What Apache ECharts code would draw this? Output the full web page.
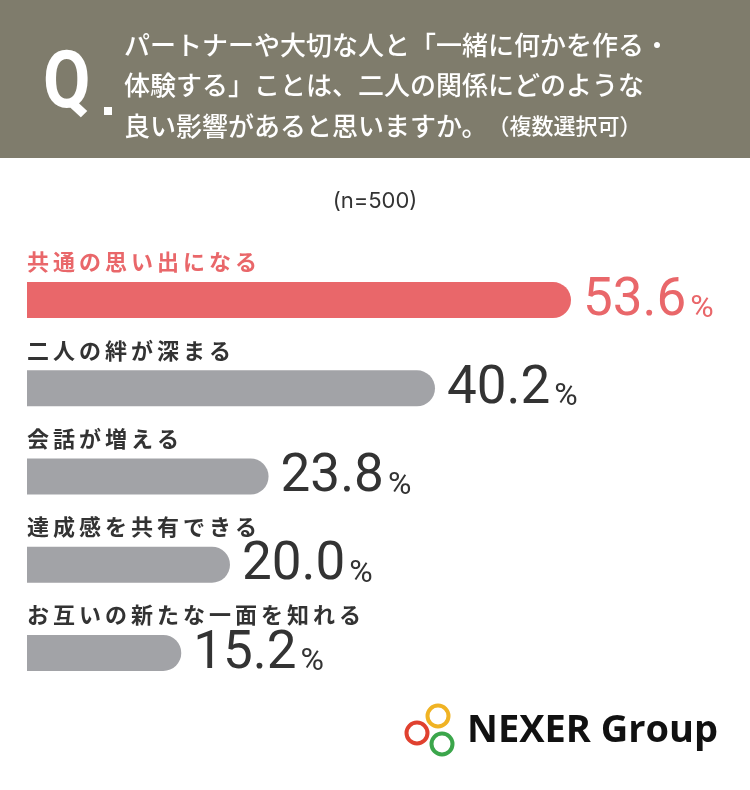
<!DOCTYPE html>
<html>
<head>
<meta charset="utf-8">
<script src="https://cdn.jsdelivr.net/npm/echarts@6/dist/echarts.min.js"></script>
<style>
html,body{margin:0;padding:0;background:#fff;}
#c{width:750px;height:790px;}
</style>
</head>
<body>
<div id="c"></div>
<script>
const categories = ['共通の思い出になる','二人の絆が深まる','会話が増える','達成感を共有できる','お互いの新たな一面を知れる'];
const values = [53.6, 40.2, 23.8, 20.0, 15.2];
const questionLines = ['パートナーや大切な人と「一緒に何かを作る・','体験する」ことは、二人の関係にどのような','良い影響があると思いますか。'];
const questionNote = '（複数選択可）';
const sampleNote = '(n=500)';

const RED = '#e9676a', GREY = '#a2a3a7', DARK = '#333333';
const JP = '"Noto Sans CJK JP", "Noto Sans", sans-serif';

const chart = echarts.init(document.getElementById('c'));

const seriesData = values.map((v, i) => ({
  value: v,
  itemStyle: { color: i === 0 ? RED : GREY },
  label: { formatter: (i === 0 ? '{nr|' : '{n|') + v.toFixed(1) + '}' + (i === 0 ? '{pr|%}' : '{p|%}') }
}));

const spaced = (txt, key) => Array.from(txt).map(ch => '{' + key + '|' + ch + '}').join('');

const numStyle = (c) => ({ fontSize: 53, color: c, fontFamily: 'Roboto, sans-serif', fontWeight: 400, verticalAlign: 'bottom', lineHeight: 56 });
const pctStyle = (c) => ({ fontSize: 32, color: c, fontFamily: 'Roboto, sans-serif', fontWeight: 400, verticalAlign: 'bottom', lineHeight: 56, padding: [0, 0, 3, 4] });

chart.setOption({
  animation: false,
  backgroundColor: '#ffffff',
  grid: { left: 27, right: 12.55, top: 256, bottom: 93, containLabel: false },
  xAxis: { type: 'value', min: 0, max: 70, show: false },
  yAxis: {
    type: 'category',
    data: categories,
    inverse: true,
    axisLine: { show: false },
    axisTick: { show: false },
    splitLine: { show: false },
    axisLabel: {
      inside: true,
      margin: 0,
      align: 'left',
      verticalAlign: 'middle',
      padding: [0, 0, 76, 0],
      formatter: (v, i) => spaced(v, i === 0 ? 'r' : 'g'),
      rich: {
        r: { color: RED, fontSize: 22, fontWeight: 'bold', fontFamily: JP, padding: [0, 4, 0, 0] },
        g: { color: DARK, fontSize: 22, fontWeight: 'bold', fontFamily: JP, padding: [0, 4, 0, 0] }
      }
    }
  },
  series: [{
    type: 'bar',
    data: seriesData,
    barWidth: 36,
    itemStyle: { borderRadius: [0, 18, 18, 0] },
    label: {
      show: true,
      position: 'right',
      distance: 12,
      rich: { n: numStyle(DARK), p: pctStyle(DARK), nr: numStyle(RED), pr: pctStyle(RED) }
    }
  }],
  graphic: [
    { type: 'rect', left: 0, top: 0, z: 0, shape: { width: 750, height: 158 }, style: { fill: '#7f7c6c' } },
    { type: 'text', x: 43, y: 87, scaleX: 0.86, z: 2, style: { text: 'Q', fill: '#fff', font: 'bold 80px Roboto, sans-serif', verticalAlign: 'middle' } },
    { type: 'rect', x: 104, y: 107, z: 2, shape: { width: 8, height: 8 }, style: { fill: '#fff' } },
    { type: 'text', x: 124, y: 45, z: 2, style: { text: questionLines[0], fill: '#fff', font: '500 26px ' + JP, verticalAlign: 'middle' } },
    { type: 'text', x: 124, y: 85, z: 2, style: { text: questionLines[1], fill: '#fff', font: '500 26px ' + JP, verticalAlign: 'middle' } },
    { type: 'text', x: 124, y: 126, z: 2, style: { text: '{a|' + questionLines[2] + '}{b|' + questionNote + '}', fill: '#fff', verticalAlign: 'middle',
      rich: { a: { fontSize: 26, fontWeight: 500, fontFamily: JP, color: '#fff' }, b: { fontSize: 22, fontWeight: 500, fontFamily: JP, color: '#fff' } } } },
    { type: 'text', x: 375, y: 201, style: { text: sampleNote, fill: DARK, font: '22px Inter, Roboto, sans-serif', align: 'center', verticalAlign: 'middle' } },
    { type: 'circle', shape: { cx: 438, cy: 716, r: 10.5 }, style: { fill: 'none', stroke: '#f0b324', lineWidth: 4 } },
    { type: 'circle', shape: { cx: 417, cy: 733, r: 10.5 }, style: { fill: 'none', stroke: '#e0412f', lineWidth: 4 } },
    { type: 'circle', shape: { cx: 442, cy: 744, r: 10.5 }, style: { fill: 'none', stroke: '#3ba64b', lineWidth: 4 } },
    { type: 'text', x: 467, y: 731, style: { text: 'NEXER Group', fill: '#111', font: 'bold 38px "Open Sans", sans-serif', verticalAlign: 'middle' } }
  ]
});
</script>
</body>
</html>
